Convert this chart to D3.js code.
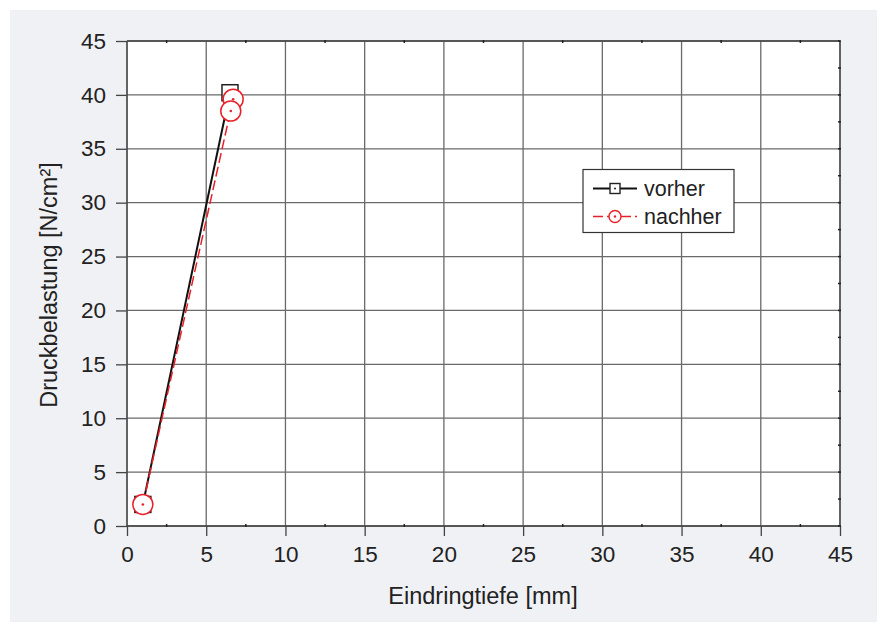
<!DOCTYPE html>
<html><head><meta charset="utf-8">
<script src="https://cdn.jsdelivr.net/npm/d3@7"></script>
<style>
html,body{margin:0;padding:0;background:#fff;}
svg{display:block;}
text{font-family:"Liberation Sans",Arial,Helvetica,sans-serif;fill:#222;}
</style></head><body>
<svg id="c" width="881" height="626"></svg>
<script>
const xTicks = [0,5,10,15,20,25,30,35,40,45];
const yTicks = [0,5,10,15,20,25,30,35,40,45];
const vorherX = [1.0, 6.5];
const vorherY = [2.0, 40.2];
const nachherX = [1.0, 6.7, 6.55];
const nachherY = [2.0, 39.6, 38.5];
const seriesNames = ["vorher","nachher"];
const xTitle = "Eindringtiefe [mm]";
const yTitle = "Druckbelastung [N/cm²]";

const svg = d3.select("#c");
svg.append("rect").attr("x",10).attr("y",10).attr("width",867).attr("height",612).attr("fill","#f0f1f4");
const L=127, R=840, T=41, B=526;
const x = d3.scaleLinear().domain([0,45]).range([L,R]);
const y = d3.scaleLinear().domain([0,45]).range([B,T]);
svg.append("rect").attr("x",L).attr("y",T).attr("width",R-L).attr("height",B-T).attr("fill","#fff");

const g = svg.append("g");
// grid
g.selectAll(".gx").data(xTicks).join("line").attr("x1",d=>x(d)).attr("x2",d=>x(d)).attr("y1",T).attr("y2",B)
  .attr("stroke","#6a6a6a").attr("stroke-width",1.3);
g.selectAll(".gy").data(yTicks).join("line").attr("y1",d=>y(d)).attr("y2",d=>y(d)).attr("x1",L).attr("x2",R)
  .attr("stroke","#6a6a6a").attr("stroke-width",1.3);

// axes
const fs = 22.5, tfs = 23.5, lfs = 21.5;
const xAxis = svg.append("g").attr("transform",`translate(0,${B})`)
  .call(d3.axisBottom(x).tickValues(xTicks).tickSize(10).tickPadding(10));
const yAxis = svg.append("g").attr("transform",`translate(${L},0)`)
  .call(d3.axisLeft(y).tickValues(yTicks).tickSize(11).tickPadding(10));
[xAxis,yAxis].forEach(a=>{
  a.select(".domain").attr("stroke","#444").attr("stroke-width",1.3);
  a.selectAll(".tick line").attr("stroke","#444").attr("stroke-width",1.3);
  a.selectAll("text").attr("font-size",fs).attr("font-family","Liberation Sans, Arial, sans-serif").attr("fill","#222");
});
xAxis.select(".domain").attr("d",`M${L},0H${R}`);
yAxis.select(".domain").attr("d",`M0,${B}V${T}`);
// top/right frame
svg.append("line").attr("x1",L).attr("x2",R).attr("y1",T).attr("y2",T).attr("stroke","#444").attr("stroke-width",1.3);
svg.append("line").attr("x1",R).attr("x2",R).attr("y1",T).attr("y2",B).attr("stroke","#444").attr("stroke-width",1.3);
// minor ticks
const minorX = d3.range(2.5,45,5);
const minorY = d3.range(2.5,45,5);
svg.selectAll(".mxb").data(minorX).join("line").attr("x1",d=>x(d)).attr("x2",d=>x(d)).attr("y1",B-2).attr("y2",B+1).attr("stroke","#222").attr("stroke-width",1.5);
svg.selectAll(".mxt").data(minorX).join("line").attr("x1",d=>x(d)).attr("x2",d=>x(d)).attr("y1",T-1).attr("y2",T+2).attr("stroke","#222").attr("stroke-width",1.5);
svg.selectAll(".myr").data(minorY.concat(yTicks)).join("line").attr("y1",d=>y(d)).attr("y2",d=>y(d)).attr("x1",R-2).attr("x2",R+1).attr("stroke","#222").attr("stroke-width",1.5);

// titles
svg.append("text").attr("x",483).attr("y",604).attr("text-anchor","middle").attr("font-size",tfs).text(xTitle);
svg.append("text").attr("transform",`translate(56.5,285) rotate(-90)`).attr("text-anchor","middle").attr("font-size",tfs).text(yTitle);

// series
const vData = vorherX.map((d,i)=>[d,vorherY[i]]);
const nData = nachherX.map((d,i)=>[d,nachherY[i]]);
const line = d3.line().x(d=>x(d[0])).y(d=>y(d[1]));
svg.append("path").attr("d",line(vData)).attr("fill","none").attr("stroke","#111").attr("stroke-width",2).attr("stroke-linejoin","round");
svg.append("path").attr("d",line(nData)).attr("fill","none").attr("stroke","#e8202a").attr("stroke-width",1.5).attr("stroke-dasharray","10,4");

const sq = 16;
svg.selectAll(".sq").data(vData).join("rect")
  .attr("x",d=>x(d[0])-sq/2).attr("y",d=>y(d[1])-sq/2).attr("width",sq).attr("height",sq)
  .attr("fill","#fff").attr("stroke","#222").attr("stroke-width",1.5);
svg.selectAll(".sqd").data(vData).join("circle").attr("cx",d=>x(d[0])).attr("cy",d=>y(d[1])).attr("r",1).attr("fill","#222");
const cg = svg.selectAll(".cm").data(nData).join("g");
cg.append("circle")
  .attr("cx",d=>x(d[0])).attr("cy",d=>y(d[1])).attr("r",10)
  .attr("fill","#fff").attr("stroke","#e8202a").attr("stroke-width",1.5);
cg.append("circle").attr("cx",d=>x(d[0])).attr("cy",d=>y(d[1])).attr("r",1.3).attr("fill","#e8202a");

// legend
const lg = svg.append("g");
lg.append("rect").attr("x",583).attr("y",169.5).attr("width",151).attr("height",63).attr("fill","#fff").attr("stroke","#333").attr("stroke-width",1.2);
const ly = [188.5, 216.5];
lg.append("line").attr("x1",593).attr("x2",637).attr("y1",ly[0]).attr("y2",ly[0]).attr("stroke","#111").attr("stroke-width",2);
lg.append("rect").attr("x",610).attr("y",ly[0]-5).attr("width",10).attr("height",10).attr("fill","#fff").attr("stroke","#222").attr("stroke-width",1.4);
lg.append("circle").attr("cx",615).attr("cy",ly[0]).attr("r",1).attr("fill","#222");
lg.append("line").attr("x1",593).attr("x2",637).attr("y1",ly[1]).attr("y2",ly[1]).attr("stroke","#e8202a").attr("stroke-width",1.6).attr("stroke-dasharray","10,4");
lg.append("circle").attr("cx",615).attr("cy",ly[1]).attr("r",6).attr("fill","#fff").attr("stroke","#e8202a").attr("stroke-width",1.4);
lg.append("circle").attr("cx",615).attr("cy",ly[1]).attr("r",1.2).attr("fill","#e8202a");
lg.selectAll(".lt").data(seriesNames).join("text").attr("x",644).attr("y",(d,i)=>ly[i]+7.5).attr("font-size",lfs).text(d=>d);
</script></body></html>
